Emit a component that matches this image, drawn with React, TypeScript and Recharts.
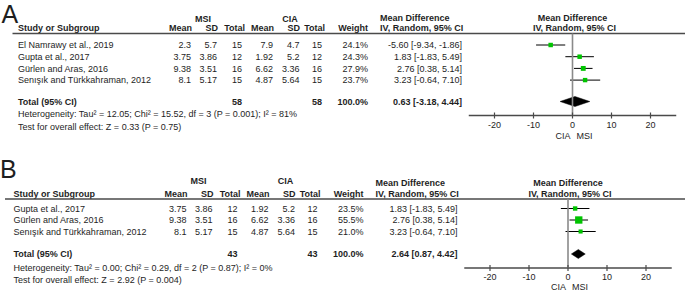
import React from 'react';
import { ScatterChart, Scatter, XAxis, YAxis, ErrorBar, ReferenceArea } from 'recharts';

// ---------------- data: panel A ----------------
const studiesA = ['El Namrawy et al., 2019', 'Gupta et al., 2017', 'Gürlen and Aras, 2016', 'Senışık and Türkkahraman, 2012'];
const msiMeanA = [2.3, 3.75, 9.38, 8.1];
const msiSdA = [5.7, 3.86, 3.51, 5.17];
const msiNA = [15, 12, 16, 15];
const ciaMeanA = [7.9, 1.92, 6.62, 4.87];
const ciaSdA = [4.7, 5.2, 3.36, 5.64];
const ciaNA = [15, 12, 16, 15];
const weightA = [24.1, 24.3, 27.9, 23.7];
const mdA = [-5.6, 1.83, 2.76, 3.23];
const lowA = [-9.34, -1.83, 0.38, -0.64];
const highA = [-1.86, 5.49, 5.14, 7.1];
const totalA = { msiN: 58, ciaN: 58, weight: 100.0, md: 0.63, low: -3.18, high: 4.44 };
const hetA = 'Heterogeneity: Tau² = 12.05; Chi² = 15.52, df = 3 (P = 0.001); I² = 81%';
const testA = 'Test for overall effect: Z = 0.33 (P = 0.75)';

// ---------------- data: panel B ----------------
const studiesB = ['Gupta et al., 2017', 'Gürlen and Aras, 2016', 'Senışık and Türkkahraman, 2012'];
const msiMeanB = [3.75, 9.38, 8.1];
const msiSdB = [3.86, 3.51, 5.17];
const msiNB = [12, 16, 15];
const ciaMeanB = [1.92, 6.62, 4.87];
const ciaSdB = [5.2, 3.36, 5.64];
const ciaNB = [12, 16, 15];
const weightB = [23.5, 55.5, 21.0];
const mdB = [1.83, 2.76, 3.23];
const lowB = [-1.83, 0.38, -0.64];
const highB = [5.49, 5.14, 7.1];
const totalB = { msiN: 43, ciaN: 43, weight: 100.0, md: 2.64, low: 0.87, high: 4.42 };
const hetB = 'Heterogeneity: Tau² = 0.00; Chi² = 0.29, df = 2 (P = 0.87); I² = 0%';
const testB = 'Test for overall effect: Z = 2.92 (P = 0.004)';

const axisTicks = [-20, -10, 0, 10, 20];
const axisDomain: [number, number] = [-26.6, 26.6];

// ---------------- styles ----------------
const FONT = "'Liberation Sans', Arial, Helvetica, sans-serif";
const TXT = '#1e1e1e';
const LINE = '#4a4a4a';
const ZERO = '#8a8a8a';
const GREEN = '#00c400';
const PX_PER_UNIT = 3.9;
const COLS = [191, 217, 242, 273, 299.5, 322, 368, 462];

type Layout = {
  letter: string; letterX: number; letterY: number;
  dx: number; zeroX: number; lineX0: number; lineY: number; axisY: number;
  rowY0: number; rowStep: number; totalY: number; hetY: number; testY: number;
  groupY: number; headY: number; fHead1Y: number; diamondH: number; sideY: number;
};

const layoutA: Layout = {
  letter: 'A', letterX: 1.5, letterY: 22.7,
  dx: 0, zeroX: 572.5, lineX0: 12.5, lineY: 33.5, axisY: 115.5,
  rowY0: 45, rowStep: 11.7, totalY: 101.5, hetY: 117.3, testY: 129.6,
  groupY: 21.5, headY: 31, fHead1Y: 20.5, diamondH: 5, sideY: 138.5,
};
const layoutB: Layout = {
  letter: 'B', letterX: 0, letterY: 178,
  dx: -4.5, zeroX: 568, lineX0: 5, lineY: 199, axisY: 268,
  rowY0: 208.5, rowStep: 11.5, totalY: 254, hetY: 270.8, testY: 283.3,
  groupY: 183.5, headY: 196.5, fHead1Y: 185.5, diamondH: 4.5, sideY: 289.5,
};

const T = ({ x, y, anchor = 'start', bold = false, size = 9, children }: any) => (
  <text x={x} y={y} textAnchor={anchor} fontSize={size} fontWeight={bold ? 'bold' : 'normal'} fill={TXT} fontFamily={FONT}>
    {children}
  </text>
);

const f2 = (v: number) => v.toFixed(2);
const mdText = (m: number, l: number, h: number) => `${f2(m)} [${f2(l)}, ${f2(h)}]`;

type PanelData = {
  studies: string[]; msiMean: number[]; msiSd: number[]; msiN: number[];
  ciaMean: number[]; ciaSd: number[]; ciaN: number[]; weight: number[];
  md: number[]; low: number[]; high: number[];
  total: { msiN: number; ciaN: number; weight: number; md: number; low: number; high: number };
  het: string; test: string;
};

const panelA: PanelData = {
  studies: studiesA, msiMean: msiMeanA, msiSd: msiSdA, msiN: msiNA, ciaMean: ciaMeanA, ciaSd: ciaSdA, ciaN: ciaNA,
  weight: weightA, md: mdA, low: lowA, high: highA, total: totalA, het: hetA, test: testA,
};
const panelB: PanelData = {
  studies: studiesB, msiMean: msiMeanB, msiSd: msiSdB, msiN: msiNB, ciaMean: ciaMeanB, ciaSd: ciaSdB, ciaN: ciaNB,
  weight: weightB, md: mdB, low: lowB, high: highB, total: totalB, het: hetB, test: testB,
};

const Panel = ({ d, lay }: { d: PanelData; lay: Layout }) => {
  const rowY = (i: number) => lay.rowY0 + i * lay.rowStep - lay.lineY;
  const totY = lay.totalY - lay.lineY;
  const points = d.studies.map((s, i) => ({
    x: d.md[i], y: rowY(i), err: [d.md[i] - d.low[i], d.high[i] - d.md[i]], w: d.weight[i],
  }));
  const rows = d.studies.map((s, i) => ({
    x: 0, y: rowY(i), bold: false, label: s,
    cells: [String(d.msiMean[i]), String(d.msiSd[i]), String(d.msiN[i]), String(d.ciaMean[i]), String(d.ciaSd[i]), String(d.ciaN[i]),
      d.weight[i].toFixed(1) + '%', mdText(d.md[i], d.low[i], d.high[i])],
  }));
  rows.push({
    x: 0, y: totY, bold: true, label: 'Total (95% CI)',
    cells: ['', '', String(d.total.msiN), '', '', String(d.total.ciaN), d.total.weight.toFixed(1) + '%', mdText(d.total.md, d.total.low, d.total.high)],
  });
  const zeroLine = [{ x: 0, y: 0 }, { x: 0, y: lay.axisY - lay.lineY }];

  const halfW = (axisDomain[1] - axisDomain[0]) / 2 * PX_PER_UNIT;
  const left = lay.zeroX - halfW;
  const right = 685 - (lay.zeroX + halfW);
  const dx = lay.dx;

  const rowShape = (p: any) => {
    const r = p.payload;
    const y = p.cy + 3.2;
    return (
      <g>
        <T x={18 + dx} y={y} bold={r.bold}>{r.label}</T>
        {r.cells.map((c: string, k: number) => (
          <T key={k} x={COLS[k] + dx} y={y} anchor="end" bold={r.bold}>{c}</T>
        ))}
      </g>
    );
  };

  const squareShape = (p: any) => {
    const s = 0.66 * Math.pow(p.payload.w, 0.6);
    return <rect x={p.cx - s / 2} y={p.cy - s / 2} width={s} height={s} fill={GREEN} />;
  };

  const diamondShape = (p: any) => {
    const { x, y, width, height } = p;
    const pts = `${x},${y + height / 2} ${x + width / 2},${y} ${x + width},${y + height / 2} ${x + width / 2},${y + height}`;
    return <polygon points={pts} fill="#000" stroke="#000" strokeWidth={0.5} />;
  };

  const tick = (p: any) => {
    const { x, y, payload } = p;
    return (
      <g>
        <line x1={x} x2={x} y1={y - 3} y2={y + 3} stroke={LINE} strokeWidth={1.2} />
        <text x={x} y={y + 12} textAnchor="middle" fontSize={9} fill={TXT} fontFamily={FONT}>{payload.value}</text>
      </g>
    );
  };

  return (
    <>
      <svg width={685} height={291} style={{ position: 'absolute', left: 0, top: 0 }}>
        <T x={lay.letterX} y={lay.letterY} size={25}>{lay.letter}</T>
        <T x={203 + dx} y={lay.groupY} anchor="middle" bold>MSI</T>
        <T x={290 + dx} y={lay.groupY} anchor="middle" bold>CIA</T>
        <T x={18 + dx} y={lay.headY} bold>Study or Subgroup</T>
        <T x={192 + dx} y={lay.headY} anchor="end" bold>Mean</T>
        <T x={218 + dx} y={lay.headY} anchor="end" bold>SD</T>
        <T x={245 + dx} y={lay.headY} anchor="end" bold>Total</T>
        <T x={274 + dx} y={lay.headY} anchor="end" bold>Mean</T>
        <T x={300 + dx} y={lay.headY} anchor="end" bold>SD</T>
        <T x={325 + dx} y={lay.headY} anchor="end" bold>Total</T>
        <T x={368 + dx} y={lay.headY} anchor="end" bold>Weight</T>
        <T x={380 + dx} y={lay.fHead1Y} bold>Mean Difference</T>
        <T x={380 + dx} y={lay.headY} bold>IV, Random, 95% CI</T>
        <T x={lay.zeroX} y={lay.fHead1Y} anchor="middle" bold>Mean Difference</T>
        <T x={lay.zeroX + 2} y={lay.headY} anchor="middle" bold>IV, Random, 95% CI</T>
        <line x1={lay.lineX0} x2={685} y1={lay.lineY} y2={lay.lineY} stroke={LINE} strokeWidth={1.3} />
        <T x={18 + dx} y={lay.hetY}>{d.het}</T>
        <T x={18 + dx} y={lay.testY}>{d.test}</T>
        <T x={lay.zeroX - 2} y={lay.sideY} anchor="end">CIA</T>
        <T x={lay.zeroX + 4} y={lay.sideY}>MSI</T>
      </svg>
      <div style={{ position: 'absolute', left: 0, top: 0 }}>
        <ScatterChart width={685} height={291} margin={{ top: lay.lineY, bottom: 0, left, right }}>
          <XAxis
            type="number" dataKey="x" domain={axisDomain} ticks={axisTicks} interval={0}
            height={291 - lay.axisY} tickSize={0} tickMargin={0} tickLine={false}
            axisLine={{ stroke: LINE, strokeWidth: 1.3 }} tick={tick}
          />
          <YAxis type="number" dataKey="y" domain={[0, lay.axisY - lay.lineY]} reversed hide width={0} />
          <Scatter data={zeroLine} line={{ stroke: ZERO, strokeWidth: 1.6 }} shape={() => <g />} isAnimationActive={false} />
          <Scatter data={rows} shape={rowShape} isAnimationActive={false} />
          <Scatter data={points} shape={squareShape} isAnimationActive={false}>
            <ErrorBar dataKey="err" direction="x" width={0} stroke="#000" strokeWidth={1} />
          </Scatter>
          <ReferenceArea
            x1={d.total.low} x2={d.total.high}
            y1={totY - lay.diamondH} y2={totY + lay.diamondH}
            shape={diamondShape}
          />
        </ScatterChart>
      </div>
    </>
  );
};

export default function App() {
  return (
    <div style={{ position: 'absolute', left: 0, top: 0, width: 685, height: 291, background: '#fff' }}>
      <Panel d={panelA} lay={layoutA} />
      <Panel d={panelB} lay={layoutB} />
    </div>
  );
}
